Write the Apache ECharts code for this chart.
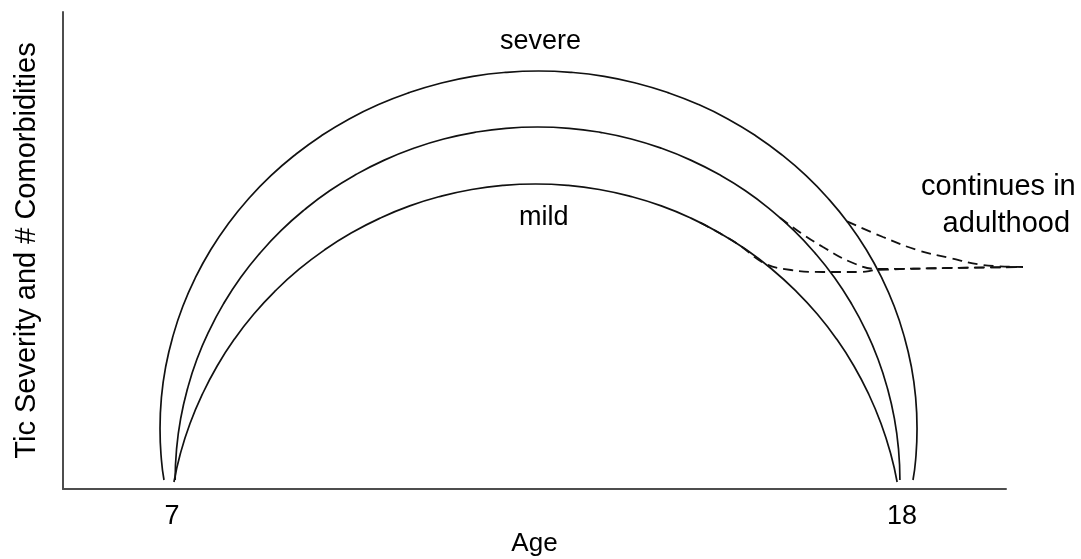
<!DOCTYPE html>
<html>
<head>
<meta charset="utf-8">
<script src="https://cdn.jsdelivr.net/npm/echarts@6/dist/echarts.min.js"></script>
<style>
  html, body { margin: 0; padding: 0; background: #ffffff; }
  #chart { width: 1081px; height: 559px; }
</style>
</head>
<body>
<div id="chart"></div>
<script>
// ---- data (Age in years, severity in arbitrary units 0-100) ----
const xTickValues = [7, 18];
const xAxisTitle = 'Age';
const yAxisTitle = 'Tic Severity and # Comorbidities';

const severeArc = [
  [6.879, 1.89], [6.840, 6.12], [6.819, 12.66], [6.840, 19.20], [6.905, 25.68],
  [7.014, 32.05], [7.163, 38.30], [7.354, 44.34], [7.583, 50.15], [7.850, 55.66],
  [8.154, 60.86], [8.490, 65.68], [8.857, 70.08], [9.251, 74.07], [9.670, 77.59],
  [10.112, 80.61], [10.573, 83.10], [11.046, 85.07], [11.533, 86.50], [12.026, 87.34],
  [12.523, 87.63], [13.020, 87.34], [13.513, 86.50], [14.000, 85.07], [14.473, 83.10],
  [14.934, 80.61], [15.376, 77.59], [15.794, 74.07], [16.189, 70.08], [16.555, 65.68],
  [16.891, 60.86], [17.196, 55.66], [17.463, 50.15], [17.692, 44.34], [17.883, 38.30],
  [18.032, 32.05], [18.141, 25.68], [18.206, 19.20], [18.227, 12.66], [18.206, 6.12],
  [18.166, 1.89]
];
const middleArc = [
  [7.047, 1.89], [7.068, 8.34], [7.130, 14.74], [7.234, 21.05], [7.375, 27.19],
  [7.559, 33.17], [7.779, 38.89], [8.034, 44.34], [8.325, 49.45], [8.646, 54.21],
  [8.998, 58.57], [9.375, 62.52], [9.777, 65.97], [10.199, 68.95], [10.641, 71.43],
  [11.094, 73.38], [11.560, 74.76], [12.032, 75.62], [12.508, 75.89], [12.984, 75.62],
  [13.456, 74.76], [13.921, 73.38], [14.375, 71.43], [14.816, 68.95], [15.238, 65.97],
  [15.641, 62.52], [16.017, 58.57], [16.370, 54.21], [16.691, 49.45], [16.982, 44.34],
  [17.237, 38.89], [17.457, 33.17], [17.640, 27.19], [17.782, 21.05], [17.886, 14.74],
  [17.948, 8.34], [17.969, 1.89]
];
const mildArc = [
  [7.029, 1.47], [7.125, 7.38], [7.271, 13.73], [7.457, 19.87], [7.680, 25.79],
  [7.939, 31.40], [8.233, 36.69], [8.560, 41.59], [8.915, 46.08], [9.300, 50.15],
  [9.706, 53.71], [10.136, 56.79], [10.582, 59.35], [11.043, 61.34], [11.516, 62.79],
  [11.994, 63.65], [12.478, 63.94], [12.961, 63.65], [13.439, 62.79], [13.912, 61.34],
  [14.373, 59.35], [14.820, 56.79], [15.249, 53.71], [15.656, 50.15], [16.040, 46.08],
  [16.396, 41.59], [16.723, 36.69], [17.017, 31.40], [17.276, 25.79], [17.499, 19.87],
  [17.684, 13.73], [17.830, 7.38], [17.927, 1.47]
];
const severeTail = [
  [17.172, 56.10], [17.714, 52.83], [18.227, 50.10], [18.724, 48.43], [19.221, 46.96], [19.824, 46.54]
];
const middleTail = [
  [16.162, 56.88], [16.477, 53.67], [16.810, 50.73], [17.227, 47.59], [17.624, 46.12],
  [18.724, 46.33], [19.824, 46.54]
];
const mildTail = [
  [14.957, 55.87], [15.514, 51.47], [15.936, 47.25], [16.327, 45.91], [16.810, 45.49],
  [17.368, 45.49], [17.624, 45.91], [18.724, 46.33], [19.824, 46.54]
];
const annotations = [
  [12.56, 93.71, 'severe'],
  [12.61, 56.81, 'mild'],
  [19.46, 63.31, 'continues in'],
  [19.58, 55.35, 'adulthood']
];
const annotationSizes = [27, 27, 29, 29];

// ---- chart ----
const FONT = '"Liberation Sans", Arial, Helvetica, sans-serif';
const axisColor = '#4d4d4d';
const lineColor = '#111111';

function solid(name, data) {
  return {
    name, type: 'line', data, smooth: 0.5, showSymbol: false, symbol: 'none',
    xAxisIndex: 0, yAxisIndex: 0, clip: false, silent: true,
    lineStyle: { color: lineColor, width: 1.7, type: 'solid' }
  };
}
function dashed(name, data) {
  return {
    name, type: 'line', data, smooth: 0.4, showSymbol: false, symbol: 'none',
    xAxisIndex: 0, yAxisIndex: 0, clip: false, silent: true,
    lineStyle: { color: '#111111', width: 1.8, type: [10, 6] }
  };
}

const chart = echarts.init(document.getElementById('chart'), null, { renderer: 'canvas' });
chart.setOption({
  animation: false,
  backgroundColor: '#ffffff',
  grid: [
    // plotting area (extends to the right so the adulthood tails fit)
    { left: 63, right: 41, top: 12, bottom: 70, containLabel: false, outerBoundsMode: 'none' },
    // frame with the visible axes
    { left: 63, right: 75, top: 12, bottom: 70, containLabel: false, outerBoundsMode: 'none' }
  ],
  xAxis: [
    {
      gridIndex: 0, type: 'value', min: 5.357, max: 20.080,
      axisLine: { show: false }, axisTick: { show: false },
      axisLabel: { show: false }, splitLine: { show: false }
    },
    {
      gridIndex: 1, type: 'value', min: 5.357, max: 19.567,
      name: xAxisTitle, nameLocation: 'middle', nameGap: 42, nameMoveOverlap: false,
      nameTextStyle: { color: '#000', fontSize: 26, fontFamily: FONT },
      axisLine: { show: true, onZero: false, lineStyle: { color: axisColor, width: 2 } },
      axisTick: { show: false },
      splitLine: { show: false },
      axisLabel: {
        customValues: xTickValues, margin: 14, color: '#000', fontSize: 27, fontFamily: FONT
      }
    }
  ],
  yAxis: [
    {
      gridIndex: 0, type: 'value', min: 0, max: 100,
      axisLine: { show: false }, axisTick: { show: false },
      axisLabel: { show: false }, splitLine: { show: false }
    },
    {
      gridIndex: 1, type: 'value', min: 0, max: 100,
      name: yAxisTitle, nameLocation: 'middle', nameGap: 22, nameRotate: 90, nameMoveOverlap: false,
      nameTextStyle: { color: '#000', fontSize: 29, fontFamily: FONT },
      axisLine: { show: true, onZero: false, lineStyle: { color: axisColor, width: 2 } },
      axisTick: { show: false },
      axisLabel: { show: false },
      splitLine: { show: false }
    }
  ],
  series: [
    { type: 'line', xAxisIndex: 1, yAxisIndex: 1, data: [], silent: true },
    solid('severe', severeArc),
    solid('middle', middleArc),
    solid('mild', mildArc),
    dashed('severe tail', severeTail),
    dashed('middle tail', middleTail),
    dashed('mild tail', mildTail),
    {
      type: 'scatter', silent: true, clip: false, xAxisIndex: 0, yAxisIndex: 0,
      data: annotations.map((a, i) => ({
        value: [a[0], a[1]], name: a[2],
        label: { fontSize: annotationSizes[i] }
      })),
      symbolSize: 1,
      itemStyle: { color: 'rgba(0,0,0,0)' },
      label: {
        show: true, position: [0, 0], align: 'center', verticalAlign: 'middle',
        formatter: p => p.name,
        color: '#000000', opacity: 1, textBorderWidth: 0,
        fontFamily: FONT, fontSize: 27
      }
    }
  ]
});
</script>
</body>
</html>
